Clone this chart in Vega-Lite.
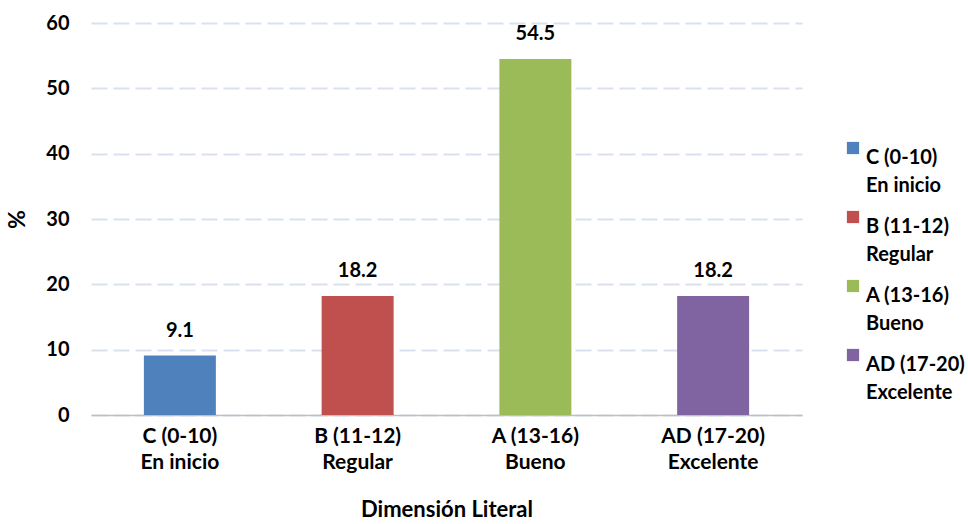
{
  "$schema": "https://vega.github.io/schema/vega-lite/v6.json",
  "width": 711,
  "height": 392,
  "autosize": {"type": "none"},
  "padding": {"left": 91, "top": 23, "right": 166, "bottom": 109},
  "background": "white",
  "config": {
    "font": "Lato",
    "view": {"stroke": null},
    "text": {"font": "Lato"}
  },
  "data": {
    "values": [
      {"cat": "C (0-10)\nEn inicio", "pct": 9.1, "label": "9.1"},
      {"cat": "B (11-12)\nRegular", "pct": 18.2, "label": "18.2"},
      {"cat": "A (13-16)\nBueno", "pct": 54.5, "label": "54.5"},
      {"cat": "AD (17-20)\nExcelente", "pct": 18.2, "label": "18.2"}
    ]
  },
  "encoding": {
    "x": {
      "field": "cat",
      "type": "nominal",
      "sort": null,
      "scale": {"paddingInner": 0.595, "paddingOuter": 0.2975},
      "axis": {
        "title": "Dimensión Literal",
        "titleFont": "Lato",
        "titleFontSize": 22,
        "titleFontWeight": "bold",
        "titleColor": "#000000",
        "titlePadding": 27,
        "labelAngle": 0,
        "labelExpr": "split(datum.label, '\\n')",
        "labelFont": "Lato",
        "labelFontSize": 21,
        "labelFontWeight": "bold",
        "labelColor": "#000000",
        "labelLineHeight": 26,
        "labelPadding": 10,
        "ticks": false,
        "domainColor": "#BFBFBF",
        "domainWidth": 1.5,
        "grid": false
      }
    },
    "y": {
      "field": "pct",
      "type": "quantitative",
      "scale": {"domain": [0, 60]},
      "axis": {
        "title": "%",
        "titleFont": "Lato",
        "titleFontSize": 23,
        "titleFontWeight": "bold",
        "titleColor": "#000000",
        "titlePadding": 16,
        "values": [0, 10, 20, 30, 40, 50, 60],
        "labelFont": "Lato",
        "labelFontSize": 20,
        "labelFontWeight": "bold",
        "labelColor": "#000000",
        "labelPadding": 22,
        "ticks": false,
        "domain": false,
        "grid": true,
        "gridColor": "#D9E1F0",
        "gridWidth": 2,
        "gridDash": [16, 6]
      }
    }
  },
  "layer": [
    {
      "mark": {"type": "bar"},
      "encoding": {
        "color": {
          "field": "cat",
          "type": "nominal",
          "sort": null,
          "scale": {"range": ["#4F81BD", "#C0504D", "#9BBB59", "#8064A2"]},
          "legend": {
            "title": null,
            "orient": "none",
            "legendX": 752,
            "legendY": 115,
            "symbolType": "square",
            "symbolSize": 150,
            "symbolStrokeWidth": 0,
            "labelExpr": "split(datum.label, '\\n')",
            "labelFont": "Lato",
            "labelFontSize": 20,
            "labelFontWeight": "bold",
            "labelColor": "#000000",
            "labelBaseline": "top",
            "labelOffset": 3,
            "labelLimit": 200,
            "rowPadding": 11,
            "encode": {"labels": {"update": {"lineHeight": {"value": 28}}}}
          }
        }
      }
    },
    {
      "mark": {"type": "text", "baseline": "middle", "dy": -25, "fontSize": 20, "fontWeight": "bold", "color": "#000000", "font": "Lato"},
      "encoding": {
        "text": {"field": "label"}
      }
    }
  ]
}
